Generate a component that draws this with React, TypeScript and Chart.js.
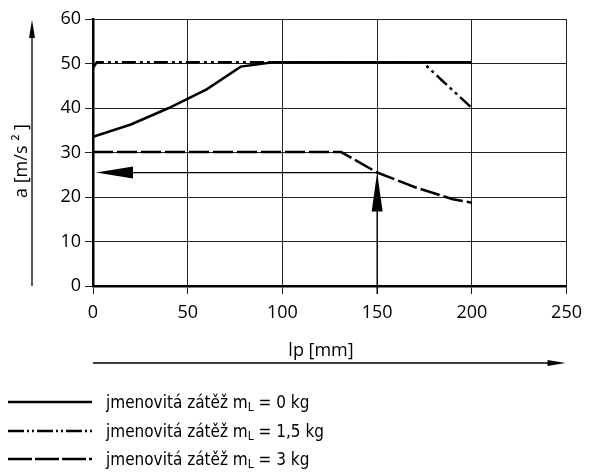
import React, { useEffect, useRef } from "react";
import { Chart, registerables } from "chart.js";

Chart.register(...registerables);

// ---- data ----
const xTickValues = [0, 50, 100, 150, 200, 250];
const yTickValues = [0, 10, 20, 30, 40, 50, 60];

const load0X = [0, 20, 40, 60, 78, 95, 200];
const load0Y = [33.5, 36.3, 40.0, 44.2, 49.3, 50.3, 50.3];

const load15X = [0, 2, 174, 184, 200];
const load15Y = [49.0, 50.3, 50.3, 46.3, 40.0];

const load3X = [0, 131, 150, 170, 190, 200];
const load3Y = [30.1, 30.1, 25.5, 22.2, 19.5, 18.7];

const readoutX = 150;
const readoutY = 25.5;

const legendPrefix = "jmenovitá zátěž m";
const legendSub = "L";
const legendSuffixes = [" = 0 kg", " = 1,5 kg", " = 3 kg"];
const xTitle = "lp [mm]";
const yTitle = "a [m/s ² ]";

const dash15 = [14, 4, 3, 4, 3, 4];
const dash3 = [20, 4];
const legendDashes = [[], [16, 3, 2, 3, 2, 3], [24, 3]];

const TICK_FONT = "Open Sans";
const LEGEND_FONT = "'Liberation Sans Narrow', 'DejaVu Sans Condensed', sans-serif";

const toPoints = (xs: number[], ys: number[]) => xs.map((x, i) => ({ x, y: ys[i] }));

function tri(ctx: CanvasRenderingContext2D, pts: number[][]) {
  ctx.beginPath();
  ctx.moveTo(pts[0][0], pts[0][1]);
  for (let i = 1; i < pts.length; i++) ctx.lineTo(pts[i][0], pts[i][1]);
  ctx.closePath();
  ctx.fill();
}

const decorPlugin = {
  id: "decor",
  afterDraw(chart: any) {
    const ctx: CanvasRenderingContext2D = chart.ctx;
    const xs = chart.scales.x;
    const ys = chart.scales.y;
    const area = chart.chartArea;
    ctx.save();
    ctx.fillStyle = "#000";
    ctx.strokeStyle = "#000";

    // readout arrows
    const px = xs.getPixelForValue(readoutX);
    const py = ys.getPixelForValue(readoutY);
    const p0 = ys.getPixelForValue(0);
    const x0 = xs.getPixelForValue(0);
    ctx.lineWidth = 1.3;
    ctx.beginPath();
    ctx.moveTo(px, p0 + 8);
    ctx.lineTo(px, py + 10);
    ctx.stroke();
    tri(ctx, [[px, py], [px - 5.5, py + 39], [px + 5.5, py + 39]]);
    ctx.beginPath();
    ctx.moveTo(px, py);
    ctx.lineTo(x0 + 20, py);
    ctx.stroke();
    tri(ctx, [[x0 + 3, py], [x0 + 40, py - 6], [x0 + 40, py + 6]]);

    // outer axis arrows
    const ax = 32;
    ctx.lineWidth = 1.3;
    ctx.beginPath();
    ctx.moveTo(ax, area.bottom);
    ctx.lineTo(ax, area.top + 8);
    ctx.stroke();
    tri(ctx, [[ax, area.top + 1], [ax - 3, area.top + 19], [ax + 3, area.top + 19]]);

    const by = 363;
    ctx.beginPath();
    ctx.moveTo(area.left, by);
    ctx.lineTo(area.right - 10, by);
    ctx.stroke();
    tri(ctx, [[area.right - 1, by], [area.right - 19, by - 3], [area.right - 19, by + 3]]);

    // titles
    ctx.font = `18px ${TICK_FONT}`;
    ctx.textAlign = "center";
    ctx.textBaseline = "middle";
    ctx.fillText(xTitle, 321, 351);
    ctx.save();
    ctx.translate(22, 161);
    ctx.rotate(-Math.PI / 2);
    ctx.fillText(yTitle, 0, 0);
    ctx.restore();

    // legend
    const rows = [402, 431, 459];
    rows.forEach((ry, i) => {
      ctx.lineWidth = 2.5;
      ctx.setLineDash(legendDashes[i]);
      ctx.beginPath();
      ctx.moveTo(8, ry);
      ctx.lineTo(92, ry);
      ctx.stroke();
      ctx.setLineDash([]);
      ctx.textAlign = "left";
      ctx.textBaseline = "alphabetic";
      ctx.font = `17px ${LEGEND_FONT}`;
      let tx = 106;
      const base = ry + 6;
      ctx.fillText(legendPrefix, tx, base);
      tx += ctx.measureText(legendPrefix).width;
      ctx.font = `12px ${LEGEND_FONT}`;
      ctx.fillText(legendSub, tx, base + 3);
      tx += ctx.measureText(legendSub).width;
      ctx.font = `17px ${LEGEND_FONT}`;
      ctx.fillText(legendSuffixes[i], tx, base);
    });
    ctx.restore();
  },
};

export default function App() {
  const ref = useRef<HTMLCanvasElement | null>(null);
  useEffect(() => {
    document.body.style.margin = "0";
    const canvas = ref.current;
    if (!canvas) return;
    const lineBase = {
      borderColor: "#000",
      borderWidth: 2.5,
      pointRadius: 0,
      fill: false,
      tension: 0,
    };
    const chart = new Chart(canvas, {
      type: "line",
      data: {
        datasets: [
          { ...lineBase, label: "1,5 kg", data: toPoints(load15X, load15Y), borderDash: dash15 },
          { ...lineBase, label: "3 kg", data: toPoints(load3X, load3Y), borderDash: dash3 },
          { ...lineBase, label: "0 kg", data: toPoints(load0X, load0Y) },
        ],
      },
      options: {
        responsive: false,
        animation: false,
        devicePixelRatio: 1,
        layout: { padding: { left: 0, right: 22, top: 19, bottom: 0 } },
        plugins: { legend: { display: false }, tooltip: { enabled: false } },
        scales: {
          x: {
            type: "linear",
            min: 0,
            max: 250,
            afterBuildTicks: (s: any) => {
              s.ticks = xTickValues.map((v) => ({ value: v }));
            },
            afterFit: (s: any) => {
              s.height = 187;
            },
            ticks: { color: "#000", font: { family: TICK_FONT, size: 18 }, padding: 8, maxRotation: 0 },
            grid: { color: "#222", lineWidth: 1, tickLength: 8 },
            border: { display: true, color: "#000", width: 2.5 },
          },
          y: {
            type: "linear",
            min: 0,
            max: 60,
            afterBuildTicks: (s: any) => {
              s.ticks = yTickValues.map((v) => ({ value: v }));
            },
            afterFit: (s: any) => {
              s.width = 93;
            },
            ticks: { color: "#000", font: { family: TICK_FONT, size: 18 }, padding: 4 },
            grid: { color: "#222", lineWidth: 1, tickLength: 8 },
            border: { display: true, color: "#000", width: 2.5 },
          },
        },
      },
      plugins: [decorPlugin],
    } as any);
    return () => chart.destroy();
  }, []);
  return (
    <div style={{ width: 590, height: 473, background: "#fff" }}>
      <canvas ref={ref} width={590} height={473} />
    </div>
  );
}
